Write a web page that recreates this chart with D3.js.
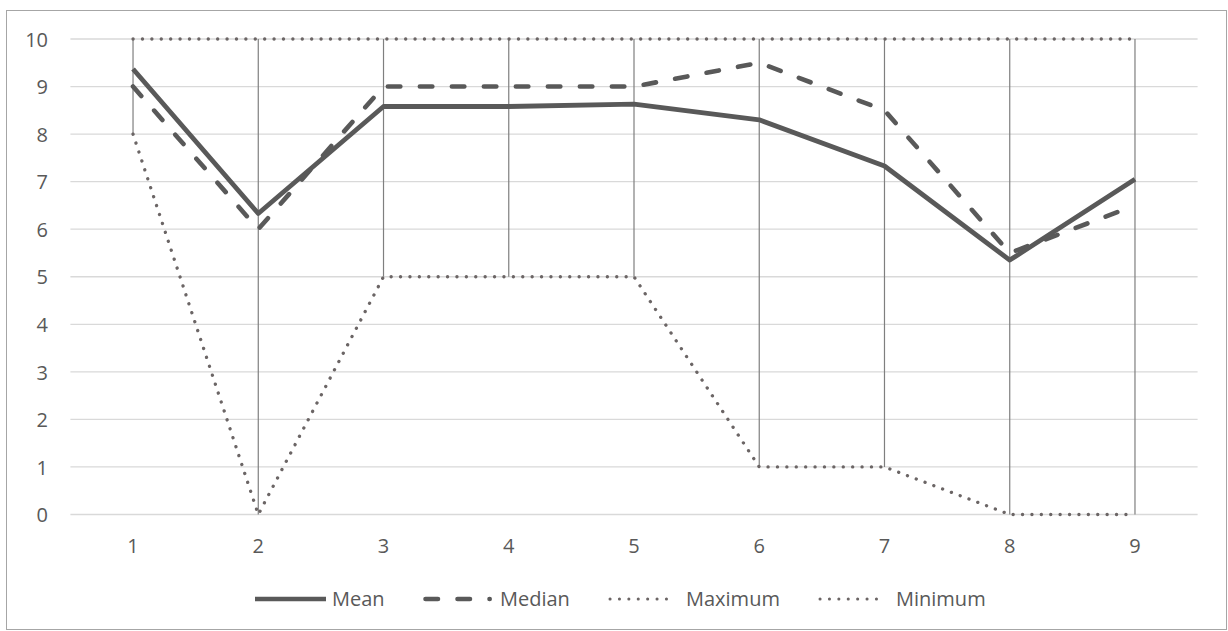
<!DOCTYPE html>
<html><head><meta charset="utf-8">
<script src="https://cdn.jsdelivr.net/npm/d3@7"></script>
<style>body{margin:0;background:#fff;font-family:"Open Sans",sans-serif;}</style>
</head><body><svg id="c" width="1228" height="631"></svg>
<script>
const categories = ["1","2","3","4","5","6","7","8","9"];
const meanValues = [9.37, 6.33, 8.58, 8.58, 8.63, 8.30, 7.33, 5.35, 7.05];
const medianValues = [9, 6, 9, 9, 9, 9.5, 8.5, 5.5, 6.5];
const maxValues = [10, 10, 10, 10, 10, 10, 10, 10, 10];
const minValues = [8, 0, 5, 5, 5, 1, 1, 0, 0];
const yTicks = [0,1,2,3,4,5,6,7,8,9,10];
const seriesNames = ["Mean","Median","Maximum","Minimum"];

const svg = d3.select("#c");
svg.append("rect").attr("x",6.5).attr("y",10.5).attr("width",1220).attr("height",619)
  .attr("fill","#fff").attr("stroke","#a6a6a6").attr("stroke-width",1);

const x = d3.scaleBand().domain(categories).range([70.4,1197.6]);
const y = d3.scaleLinear().domain([0,10]).range([514.5,39]);
const cx = c => x(c)+x.bandwidth()/2;
const font = "'Open Sans', sans-serif";
const txt = "#595959";
const fs = 20;

// gridlines
svg.append("g").selectAll("line").data(yTicks).join("line")
  .attr("x1",70.4).attr("x2",1197.6).attr("y1",d=>y(d)).attr("y2",d=>y(d))
  .attr("stroke","#d9d9d9").attr("stroke-width",1.3);

// y axis labels
const yAxis = d3.axisLeft(y).tickValues(yTicks).tickSize(0).tickPadding(0);
const ga = svg.append("g").attr("transform","translate(48,0)").call(yAxis);
ga.select(".domain").remove();
ga.selectAll("text").attr("fill",txt).attr("font-size",fs).attr("font-family",font).attr("dy","0.36em");

// x axis labels
const xAxis = d3.axisBottom(x).tickSize(0).tickPadding(0);
const gx = svg.append("g").attr("transform","translate(0,546)").call(xAxis);
gx.select(".domain").remove();
gx.selectAll("text").attr("fill",txt).attr("font-size",fs).attr("font-family",font).attr("dy","0.36em");

// high-low lines
svg.append("g").selectAll("line").data(categories).join("line")
  .attr("x1",d=>cx(d)).attr("x2",d=>cx(d))
  .attr("y1",(d,i)=>y(maxValues[i])).attr("y2",(d,i)=>y(minValues[i]))
  .attr("stroke","#7f7f7f").attr("stroke-width",1.2);

const line = d3.line().x((d,i)=>cx(categories[i])).y(d=>y(d));
const styles = {
  Mean:{w:4.8,dash:null,cap:"butt"},
  Median:{w:4.6,dash:"12.5 19.5",cap:"round"},
  Maximum:{w:3.3,dash:"0.1 9.3",cap:"round"},
  Minimum:{w:3.3,dash:"0.1 9.3",cap:"round"}
};
const colors = {Mean:"#595959",Median:"#595959",Maximum:"#6b6565",Minimum:"#6b6565"};
const data = {Mean:meanValues,Median:medianValues,Maximum:maxValues,Minimum:minValues};

["Minimum","Maximum","Median","Mean"].forEach(n=>{
  svg.append("path").datum(data[n]).attr("d",line).attr("fill","none")
    .attr("stroke",colors[n]).attr("stroke-width",styles[n].w)
    .attr("stroke-dasharray",styles[n].dash).attr("stroke-linecap",styles[n].cap)
    .attr("stroke-linejoin","round");
});

// legend
const legX = [255, 425.5, 610, 820];
const legW = [71, 64.2, 65.2, 65.2];
const textX = [332, 500, 686, 896];
const lg = svg.append("g").selectAll("g").data(seriesNames).join("g")
  .attr("transform",(d,i)=>`translate(${legX[i]},599)`);
lg.append("line").attr("x1",0).attr("x2",(d,i)=>legW[i]).attr("y1",0).attr("y2",0)
  .attr("stroke",d=>colors[d]).attr("stroke-width",d=>d==="Mean"||d==="Median"?4.6:3)
  .attr("stroke-dasharray",d=>styles[d].dash)
  .attr("stroke-linecap",d=>styles[d].cap);
lg.append("text").attr("x",(d,i)=>textX[i]-legX[i]).attr("y",0).attr("dy","0.36em")
  .attr("fill",txt).attr("font-size",fs).attr("font-family",font).text(d=>d);
</script></body></html>
